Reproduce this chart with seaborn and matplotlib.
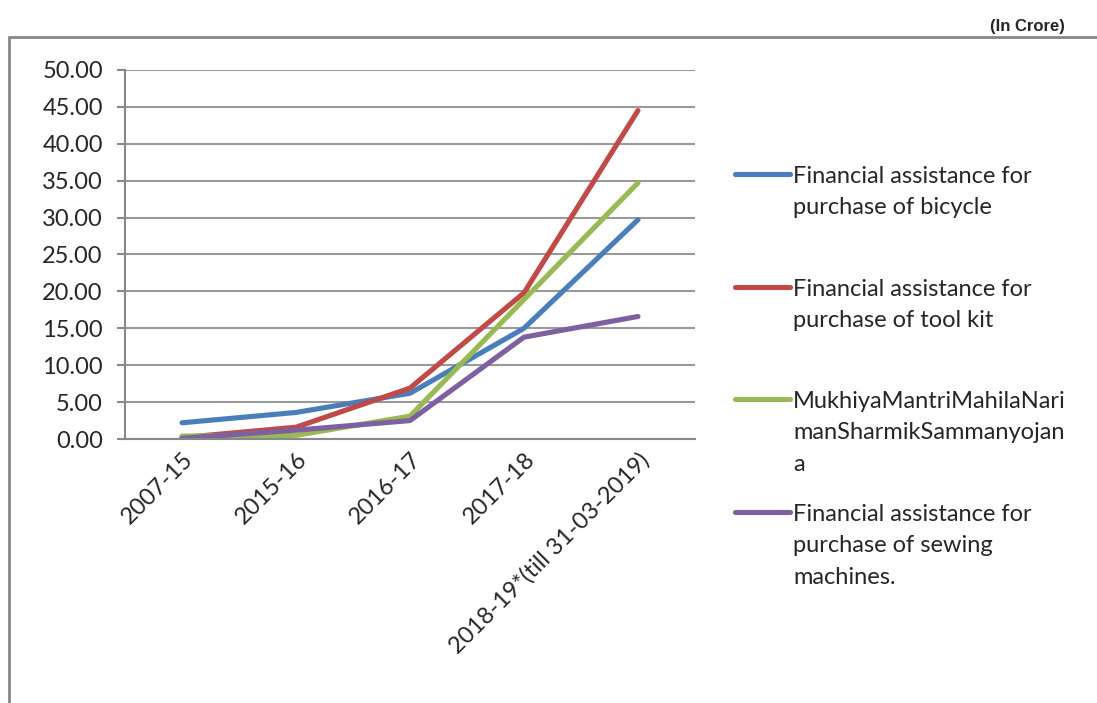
import pandas as pd
import seaborn as sns
from matplotlib import pyplot as plt
from matplotlib.lines import Line2D
from matplotlib.patches import Rectangle

years = ["2007-15", "2015-16", "2016-17", "2017-18", "2018-19*(till 31-03-2019)"]
bicycle = [2.2, 3.6, 6.2, 15.0, 29.7]
tool_kit = [0.2, 1.6, 6.9, 19.8, 44.5]
mahila = [0.4, 0.5, 3.1, 18.9, 34.7]
sewing = [0.1, 1.2, 2.5, 13.8, 16.6]

series_names = ["Financial assistance for\npurchase of bicycle",
                "Financial assistance for\npurchase of tool kit",
                "MukhiyaMantriMahilaNari\nmanSharmikSammanyojan\na",
                "Financial assistance for\npurchase of sewing\nmachines."]
colors = ["#4A7EBB", "#BE4B48", "#98B954", "#7D60A0"]

rows = []
for name, vals in zip(series_names, [bicycle, tool_kit, mahila, sewing]):
    for i, v in enumerate(vals):
        rows.append({"pos": i, "value": v, "series": name})
df = pd.DataFrame(rows)

sns.set_style("white")
plt.rcParams['font.family'] = ['Lato', 'DejaVu Sans']

fig = plt.figure(figsize=(10.97, 7.03), dpi=100)
ax = fig.add_axes([0.114, 0.3755, 0.5195, 0.525])

sns.lineplot(data=df, x="pos", y="value", hue="series", hue_order=series_names,
             palette=colors, linewidth=3.7, legend=False, ax=ax,
             solid_capstyle="round", solid_joinstyle="round")

fs = 17
ax.set_xlim(-0.5, 4.5)
ax.set_ylim(0, 50)
ax.set_yticks(range(0, 51, 5))
ax.set_yticklabels([f"{v:.2f}" for v in range(0, 51, 5)], fontsize=fs)
ax.set_xticks(range(5))
ax.set_xticklabels(years, rotation=45, ha="right", rotation_mode="anchor", fontsize=fs)
ax.set_xticks([i - 0.5 for i in range(6)], minor=True)
ax.tick_params(axis="x", which="major", length=0, pad=7)
ax.tick_params(axis="x", which="minor", length=7, width=1.5, color="#888888", direction="out")
ax.tick_params(axis="y", length=6, width=1.5, color="#888888", direction="out", left=True, pad=10)
ax.set_xlabel("")
ax.set_ylabel("")
ax.yaxis.grid(True, color="#999999", linewidth=1.5)
ax.set_axisbelow(True)
for s in ["top", "right"]:
    ax.spines[s].set_visible(False)
for s in ["left", "bottom"]:
    ax.spines[s].set_color("#888888")
    ax.spines[s].set_linewidth(1.5)

# legend drawn on the figure
leg_y = [174, 287, 399, 512]
for name, c, y in zip(series_names, colors, leg_y):
    fy = 1 - y / 703
    fig.add_artist(Line2D([735 / 1097, 790 / 1097], [fy, fy], color=c, linewidth=3.7,
                          transform=fig.transFigure))
    fig.text(793 / 1097, fy + 0.012, name, fontsize=fs, va="top", ha="left",
             linespacing=1.62)

fig.add_artist(Rectangle((9 / 1097, -0.01), 1.1, 1 - 37 / 703 + 0.01, transform=fig.transFigure,
                         fill=False, edgecolor="#888888", linewidth=2))
fig.text(1065 / 1097, 1 - 27 / 703, "(In Crore)", fontsize=12, fontweight="bold",
         ha="right", va="center", family=["Liberation Sans Narrow", "Liberation Sans"])

fig.savefig("out.png", dpi=100)
